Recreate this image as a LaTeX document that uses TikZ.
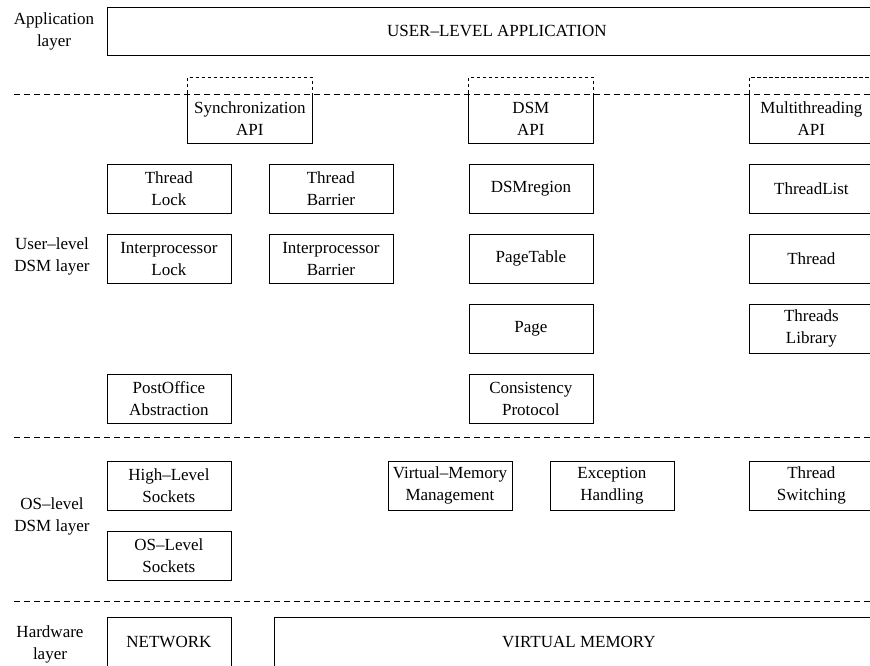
\documentclass[tikz,border=0pt]{standalone}
\usepackage{fontspec}
\setmainfont{Liberation Serif}

\begin{document}
\begin{tikzpicture}[x=1pt,y=1pt,yscale=-1,xscale=1,font=\fontsize{17}{22}\selectfont,
  box/.style={draw, line width=0.8pt, minimum width=124pt, minimum height=49pt, inner sep=0pt, align=center, anchor=north west},
  apibox/.style={box, draw=none},
  layerlabel/.style={align=center},
  layerline/.style={line width=0.7pt, dash pattern=on 6pt off 4pt},
  apitop/.style={line width=0.7pt, dash pattern=on 3.5pt off 2.5pt}]
\useasboundingbox (0,0) rectangle (870,666);
\clip (0,0) rectangle (870,666);

%Straight Lines: layer separators
\draw [layerline] (14,94) -- (874,94);
\draw [layerline] (14,437) -- (874,437);
\draw [layerline] (14,601.5) -- (874,601.5);

% Text Node: layer names
\node [layerlabel] (lapp) at (54,31) {Application\\layer};
\node [layerlabel] (luser) at (52,256) {User--level\\DSM layer};
\node [layerlabel] (los) at (52,516) {OS--level\\DSM layer};
\node [layerlabel] (lhw) at (50,644) {Hardware\\layer};

%Shape: Rectangle - application layer
\node [box, minimum width=780pt, minimum height=48pt] (app) at (106.5,7) {USER--LEVEL APPLICATION};

%Shape: API boxes, dashed part reaches into the application layer
\node [apibox] (syncapi) at (187.5,93.5) {Synchronization\\API};
\node [apibox] (dsmapi) at (468.5,93.5) {DSM\\API};
\node [apibox] (mtapi) at (749,93.5) {Multithreading\\API};
\foreach \n in {syncapi,dsmapi,mtapi}{
  \draw [line width=0.8pt] (\n.north west) -- (\n.south west) -- (\n.south east) -- (\n.north east);
  \draw [apitop] (\n.north west) -- ++(0,-16) -| (\n.north east);
}

%Shape: Rectangle - user-level DSM layer
\node [box] (tlock) at (106.5,163.5) {Thread\\Lock};
\node [box] (tbarrier) at (268.5,163.5) {Thread\\Barrier};
\node [box] (dsmregion) at (468.5,163.5) {DSMregion};
\node [box] (threadlist) at (749,163.5) {ThreadList};

\node [box] (iplock) at (106.5,234) {Interprocessor\\Lock};
\node [box] (ipbarrier) at (268.5,234) {Interprocessor\\Barrier};
\node [box] (pagetable) at (468.5,234) {PageTable};
\node [box] (thread) at (749,234) {Thread};

\node [box] (page) at (468.5,304) {Page};
\node [box] (threadslib) at (749,304) {Threads\\Library};

\node [box] (postoffice) at (106.5,374) {PostOffice\\Abstraction};
\node [box] (consistency) at (468.5,374) {Consistency\\Protocol};

%Shape: Rectangle - OS-level DSM layer
\node [box] (hlsockets) at (106.5,461) {High--Level\\Sockets};
\node [box] (vmm) at (387.5,461) {Virtual--Memory\\Management};
\node [box] (exception) at (549.5,461) {Exception\\Handling};
\node [box] (tswitch) at (749,461) {Thread\\Switching};

\node [box] (olsockets) at (106.5,531) {OS--Level\\Sockets};

%Shape: Rectangle - hardware layer
\node [box] (network) at (106.5,617) {NETWORK};
\node [box, minimum width=610pt] (vmem) at (273.5,617) {VIRTUAL MEMORY};

\end{tikzpicture}
\end{document}
